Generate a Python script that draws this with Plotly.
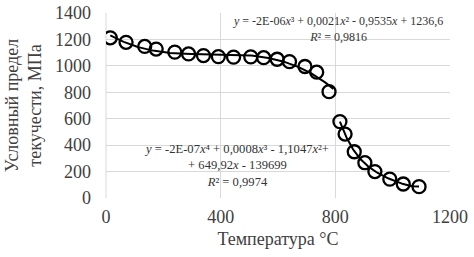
import numpy as np
import plotly.graph_objects as go

# Data
temp_1 = [15, 70, 135, 175, 240, 288, 340, 392, 445, 505, 550, 597, 640, 694, 735, 778]
yield_1 = [1212, 1178, 1147, 1127, 1104, 1090, 1078, 1070, 1066, 1068, 1062, 1050, 1032, 995, 952, 805]
temp_2 = [816, 834, 866, 903, 938, 990, 1037, 1092]
yield_2 = [578, 484, 350, 267, 200, 143, 106, 86]

eq_1 = "<i>y</i> = -2E-06<i>x</i>³ + 0,0021<i>x</i>² - 0,9535<i>x</i> + 1236,6<br><i>R</i>² = 0,9816"
eq_2 = ("<i>y</i> = -2E-07<i>x</i>⁴ + 0,0008<i>x</i>³ - 1,1047<i>x</i>²+<br>"
        "+ 649,92<i>x</i> - 139699<br><i>R</i>² = 0,9974")

x_title = "Температура °C"
y_title = "Условный предел<br>текучести, МПа"

# Trendlines fitted from the data (cubic and quartic, as in the source)
c1 = np.polyfit(temp_1, yield_1, 3)
xf1 = np.linspace(min(temp_1), max(temp_1) + 15, 200)
yf1 = np.polyval(c1, xf1)
c2 = np.polyfit(temp_2, yield_2, 4)
xf2 = np.linspace(min(temp_2), max(temp_2), 200)
yf2 = np.polyval(c2, xf2)

serif = "Liberation Serif"
fig = go.Figure()
fig.add_trace(go.Scatter(x=xf1, y=yf1, mode="lines", line=dict(color="black", width=2), showlegend=False))
fig.add_trace(go.Scatter(x=xf2, y=yf2, mode="lines", line=dict(color="black", width=2), showlegend=False))
fig.add_trace(go.Scatter(x=temp_1 + temp_2, y=yield_1 + yield_2, mode="markers",
                         marker=dict(symbol="circle-open", size=13, color="black", line=dict(width=2.3)),
                         showlegend=False))

fig.add_annotation(x=0.675, y=1.005, xref="paper", yref="paper", text=eq_1, showarrow=False,
                   xanchor="center", yanchor="top", align="center",
                   font=dict(family=serif, size=12, color="#333"))
fig.add_annotation(x=0.38, y=0.315, xref="paper", yref="paper", text=eq_2, showarrow=False,
                   xanchor="center", yanchor="top", align="center",
                   font=dict(family=serif, size=12.6, color="#333"))

fig.update_layout(
    width=474, height=257,
    margin=dict(l=106, r=24, t=13, b=59, autoexpand=False),
    paper_bgcolor="white", plot_bgcolor="white",
    font=dict(family=serif, color="#404040"),
    xaxis=dict(range=[0, 1200], tickvals=[0, 400, 800, 1200], showgrid=True, gridcolor="#d9d9d9",
               gridwidth=1, zeroline=False, showline=False, tickfont=dict(size=18),
               ticklabelstandoff=6, automargin=False,
               title=dict(text=x_title, font=dict(size=18), standoff=6)),
    yaxis=dict(range=[0, 1400], dtick=200, showgrid=True, gridcolor="#d9d9d9", gridwidth=1,
               zeroline=False, showline=False, tickfont=dict(size=18),
               ticklabelstandoff=14, automargin=False,
               title=dict(text=y_title, font=dict(size=18), standoff=8)),
)
fig.add_shape(type="line", x0=0, x1=0, y0=0, y1=1, xref="paper", yref="paper",
              line=dict(color="#d9d9d9", width=1), layer="below")

fig.write_html("out.html", config={"displayModeBar": False},
               post_script="document.body.style.margin='0';")
